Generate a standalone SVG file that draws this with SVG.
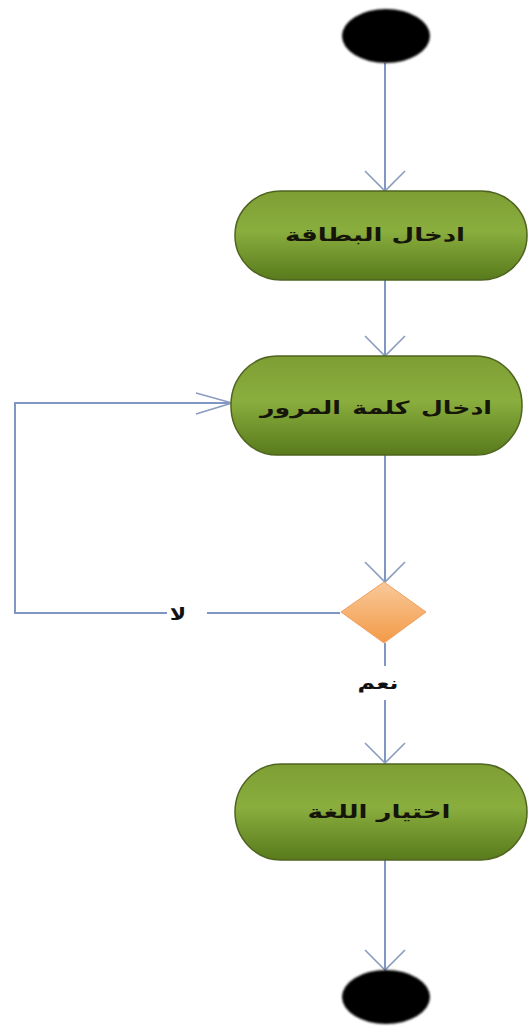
<svg xmlns="http://www.w3.org/2000/svg" width="530" height="1028" viewBox="0 0 530 1028">
<style>
.conn{fill:none;stroke:#7F97C2;stroke-width:2}
.head{fill:none;stroke:#8A9CC0;stroke-width:1.6}
.act{stroke:#4E6420;stroke-width:1.5;fill:url(#gGreen)}
.lbl{font-family:"DejaVu Sans",sans-serif;font-size:18px;font-weight:bold;fill:#15150a;text-anchor:middle}
.glbl{font-family:"DejaVu Sans",sans-serif;font-size:17px;font-weight:bold;fill:#111;text-anchor:middle}
.term{fill:#050505}
</style>
<defs>
<linearGradient id="gGreen" x1="0" y1="0" x2="0" y2="1">
<stop offset="0" stop-color="#7E9E34"/>
<stop offset="0.45" stop-color="#8AAE3E"/>
<stop offset="1" stop-color="#587A1C"/>
</linearGradient>
<linearGradient id="gOrange" x1="0" y1="0" x2="0" y2="1">
<stop offset="0" stop-color="#F8C99A"/>
<stop offset="1" stop-color="#F39A47"/>
</linearGradient>
<filter id="soft" x="-20%" y="-20%" width="140%" height="140%">
<feGaussianBlur stdDeviation="0.8"/>
</filter>
</defs>
<g id="connectors">
<line class="conn" x1="385" y1="63" x2="385" y2="190"/>
<polyline class="head" points="365,171 385,191 405,171"/>
<line class="conn" x1="385" y1="280" x2="385" y2="355"/>
<polyline class="head" points="365,336 385,356 405,336"/>
<line class="conn" x1="385" y1="455" x2="385" y2="582"/>
<polyline class="head" points="365,562 385,582 405,562"/>
<polyline class="conn" points="340,613 207,613"/>
<polyline class="conn" points="167,613 15,613 15,403 231,403"/>
<polyline class="head" points="196,393 232,403 196,414"/>
<line class="conn" x1="385" y1="643" x2="385" y2="666"/>
<line class="conn" x1="385" y1="700" x2="385" y2="763"/>
<polyline class="head" points="365,743 385,763 405,743"/>
<line class="conn" x1="385" y1="860" x2="385" y2="970"/>
<polyline class="head" points="365,950 385,970 405,950"/>
</g>
<g id="start">
<ellipse class="term" cx="386" cy="36" rx="44" ry="27" filter="url(#soft)"/>
</g>
<g id="n1">
<rect class="act" x="235" y="191" width="292" height="89" rx="46" ry="44"/>
<text class="lbl" transform="translate(375,241) scale(1.45,1)" x="0" y="0">ادخال البطاقة</text>
</g>
<g id="n2">
<rect class="act" x="231" y="356" width="291" height="99" rx="46" ry="49"/>
<text class="lbl" transform="translate(376,414) scale(1.4,1)" x="0" y="0" word-spacing="2">ادخال كلمة المرور</text>
</g>
<g id="decision">
<polygon points="384,582 426,612 384,643 341,612" fill="url(#gOrange)" stroke="#F0A060" stroke-width="1"/>
</g>
<text class="glbl" transform="translate(178,620) scale(1.3,1)" x="0" y="0">لا</text>
<text class="glbl" transform="translate(378,689) scale(1.4,1)" x="0" y="0">نعم</text>
<g id="n3">
<rect class="act" x="235" y="764" width="292" height="96" rx="46" ry="48"/>
<text class="lbl" transform="translate(379,818) scale(1.45,1)" x="0" y="0">اختيار اللغة</text>
</g>
<g id="end">
<ellipse class="term" cx="386" cy="997" rx="44" ry="27" filter="url(#soft)"/>
</g>
</svg>
